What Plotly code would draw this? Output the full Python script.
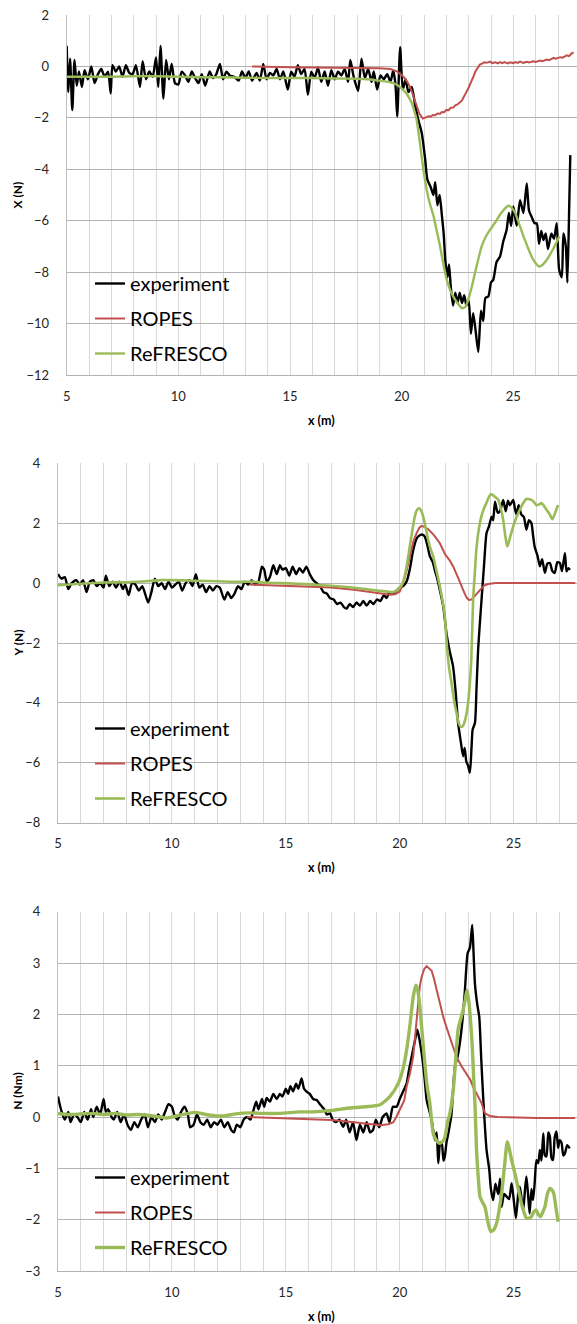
import plotly.graph_objects as go

# ---------------- data (x in m) ----------------
# Panel 1: X (N)
X_exp = [(5.00,0.8),(5.07,-1.0),(5.15,0.3),(5.25,-1.7),(5.35,0.25),(5.45,-0.75),(5.55,-0.2),(5.68,-0.8),
 (5.8,-0.15),(5.95,-0.5),(6.1,0.0),(6.25,-0.65),(6.4,-0.3),(6.55,-0.1),(6.7,-0.4),(6.85,-0.2),(6.97,-1.05),
 (7.05,0.05),(7.2,-0.2),(7.35,0.0),(7.5,-0.4),(7.65,0.05),(7.8,-0.25),(7.95,-0.3),(8.1,0.05),(8.28,-0.8),
 (8.4,0.2),(8.55,-0.5),(8.7,-0.2),(8.85,-0.4),(9.0,0.35),(9.1,-0.8),(9.2,0.8),(9.33,-1.25),(9.45,0.25),
 (9.58,-0.5),(9.7,0.1),(9.85,-0.65),(10.0,-0.7),(10.15,-0.2),(10.3,-0.35),(10.45,-0.6),(10.6,-0.2),
 (10.75,-0.45),(10.9,-0.65),(11.05,-0.3),(11.2,-0.75),(11.4,-0.2),(11.55,-0.45),(11.7,-0.3),(11.86,0.1),
 (12.0,-0.5),(12.15,-0.2),(12.3,-0.35),(12.5,-0.4),(12.7,-0.55),(12.85,-0.2),(13.0,-0.45),(13.15,-0.2),
 (13.3,-0.55),(13.5,-0.25),(13.65,-0.55),(13.8,0.1),(13.95,-0.5),(14.1,-0.25),(14.25,-0.35),(14.4,-0.1),
 (14.55,-0.5),(14.7,-0.2),(14.9,-0.9),(15.05,-0.2),(15.2,-0.4),(15.35,0.05),(15.5,-0.3),(15.65,-0.1),
 (15.8,-1.1),(15.95,-0.2),(16.1,-0.45),(16.25,-0.05),(16.4,-0.6),(16.55,-0.2),(16.7,-0.75),(16.85,-0.15),
 (17.0,-0.5),(17.15,-0.2),(17.3,-0.35),(17.45,-0.1),(17.6,-0.6),(17.7,0.25),(17.85,-0.4),(18.05,-0.95),
 (18.2,0.3),(18.35,-0.45),(18.5,-0.1),(18.65,-0.6),(18.75,-0.2),(18.9,-0.9),(19.05,-0.35),(19.2,-0.5),
 (19.35,-0.3),(19.5,-0.6),(19.62,-0.15),(19.72,-0.7),(19.8,-1.95),(19.93,0.75),(20.05,-0.9),(20.18,-0.5),
 (20.3,-1.0),(20.45,-0.8),(20.6,-1.5),(20.75,-2.1),(20.9,-2.6),(21.05,-3.6),(21.15,-4.4),(21.3,-4.7),
 (21.42,-5.0),(21.5,-4.5),(21.6,-5.4),(21.7,-5.0),(21.8,-5.8),(21.88,-6.5),(21.95,-7.5),(22.05,-8.2),
 (22.12,-7.7),(22.2,-8.6),(22.3,-9.3),(22.4,-8.8),(22.5,-9.2),(22.6,-8.8),(22.7,-9.2),(22.8,-8.9),
 (22.9,-9.3),(23.0,-9.1),(23.1,-10.4),(23.2,-9.6),(23.3,-10.2),(23.43,-11.1),(23.55,-9.5),(23.65,-9.9),
 (23.75,-9.0),(23.88,-8.95),(24.0,-8.4),(24.1,-8.3),(24.25,-7.6),(24.4,-7.4),(24.55,-6.8),(24.7,-6.35),
 (24.8,-5.7),(24.9,-6.2),(25.0,-5.45),(25.15,-6.2),(25.3,-5.2),(25.45,-5.7),(25.6,-4.55),(25.7,-5.6),
 (25.82,-5.85),(25.95,-6.1),(26.05,-6.1),(26.15,-6.9),(26.25,-6.4),(26.35,-6.75),(26.45,-6.5),(26.55,-7.1),
 (26.7,-6.5),(26.82,-6.7),(26.94,-6.1),(27.05,-7.9),(27.17,-8.2),(27.24,-6.5),(27.35,-7.0),(27.42,-8.4),
 (27.5,-5.5),(27.55,-3.45)]
X_ropes = [(13.3,0.0),(14,-0.02),(15,-0.03),(16,-0.04),(17,-0.05),(18,-0.05),(19,-0.07),(19.5,-0.1),
 (19.8,-0.2),(20.07,-0.39),(20.25,-0.6),(20.4,-0.85),(20.55,-1.2),(20.67,-1.56),(20.8,-1.85),(20.95,-2.03),
 (21.1,-1.98),(21.2,-1.94),(21.3,-1.95),(21.4,-1.89),(21.5,-1.9),(21.6,-1.83),(21.72,-1.84),(21.8,-1.77),
 (21.9,-1.78),(22.0,-1.69),(22.1,-1.7),(22.2,-1.61),(22.31,-1.6),(22.4,-1.51),(22.5,-1.48),(22.6,-1.39),
 (22.7,-1.32),(22.76,-1.22),(22.85,-1.1),(22.9,-0.99),(23.0,-0.82),(23.07,-0.7),(23.14,-0.52),(23.22,-0.38),
 (23.3,-0.2),(23.4,-0.05),(23.5,0.07),(23.6,0.11),(23.7,0.16),(23.8,0.14),(23.96,0.19),(24.05,0.13),
 (24.2,0.16),(24.3,0.12),(24.4,0.17),(24.5,0.13),(24.6,0.17),(24.75,0.12),(24.85,0.16),(25.0,0.13),
 (25.1,0.17),(25.2,0.14),(25.3,0.19),(25.45,0.14),(25.6,0.18),(25.7,0.15),(25.9,0.2),(26.0,0.17),
 (26.2,0.23),(26.3,0.2),(26.5,0.27),(26.6,0.24),(26.8,0.33),(26.9,0.3),(27.1,0.36),(27.2,0.34),
 (27.4,0.43),(27.5,0.4),(27.6,0.5),(27.7,0.55)]
X_refresco = [(5,-0.4),(6,-0.4),(7,-0.4),(8,-0.38),(9,-0.38),(10,-0.4),(11,-0.42),(12,-0.42),(13,-0.44),
 (14,-0.45),(15,-0.45),(16,-0.45),(17,-0.47),(18,-0.48),(18.5,-0.5),(19.03,-0.56),(19.4,-0.6),(19.63,-0.65),
 (19.85,-0.75),(20.07,-0.91),(20.25,-1.1),(20.45,-1.42),(20.57,-1.75),(20.67,-2.07),(20.82,-3.0),(20.97,-4.0),
 (21.12,-4.8),(21.25,-5.3),(21.42,-5.8),(21.57,-6.4),(21.72,-7.0),(21.87,-7.7),(22.02,-8.3),(22.15,-8.65),
 (22.31,-8.95),(22.5,-9.2),(22.69,-9.4),(22.85,-9.35),(22.98,-9.08),(23.13,-8.6),(23.28,-8.04),(23.43,-7.5),
 (23.58,-7.0),(23.75,-6.65),(23.96,-6.35),(24.2,-6.05),(24.4,-5.77),(24.6,-5.55),(24.78,-5.42),(24.93,-5.5),
 (25.08,-5.7),(25.25,-6.1),(25.45,-6.6),(25.63,-7.0),(25.82,-7.4),(26.0,-7.65),(26.16,-7.78),(26.3,-7.72),
 (26.5,-7.52),(26.75,-7.15),(26.9,-6.9),(27.06,-6.6)]

# Panel 2: Y (N)
Y_exp = [(5.0,0.3),(5.15,0.15),(5.3,0.2),(5.45,-0.2),(5.6,0.0),(5.8,0.1),(5.95,-0.05),(6.1,0.1),(6.25,-0.3),
 (6.4,0.05),(6.55,0.1),(6.7,-0.1),(6.85,0.0),(7.0,-0.15),(7.1,0.25),(7.25,-0.1),(7.4,0.05),(7.55,-0.15),
 (7.7,0.05),(7.85,-0.2),(7.95,-0.05),(8.1,-0.4),(8.25,0.0),(8.4,-0.05),(8.55,-0.25),(8.7,-0.1),(8.8,-0.3),
 (8.96,-0.65),(9.1,-0.3),(9.25,0.15),(9.4,-0.1),(9.55,0.0),(9.7,-0.2),(9.85,0.05),(10.0,-0.15),(10.15,-0.05),
 (10.3,0.05),(10.45,-0.25),(10.6,0.0),(10.75,0.1),(10.9,-0.1),(11.05,0.3),(11.2,-0.15),(11.35,-0.05),
 (11.5,-0.3),(11.65,-0.1),(11.8,-0.25),(11.95,-0.1),(12.1,-0.15),(12.3,-0.55),(12.45,-0.3),(12.6,-0.5),
 (12.75,-0.35),(12.9,-0.1),(13.05,-0.2),(13.2,0.05),(13.35,-0.05),(13.5,0.1),(13.65,-0.05),(13.8,0.05),
 (13.95,0.55),(14.05,0.45),(14.16,0.05),(14.3,0.2),(14.45,0.6),(14.6,0.3),(14.74,0.6),(14.85,0.45),
 (15.0,0.5),(15.15,0.25),(15.3,0.55),(15.45,0.3),(15.6,0.5),(15.75,0.35),(15.9,0.55),(16.05,0.3),(16.2,0.1),
 (16.35,0.0),(16.5,-0.1),(16.65,-0.3),(16.8,-0.35),(16.94,-0.5),(17.1,-0.55),(17.25,-0.7),(17.4,-0.65),
 (17.55,-0.8),(17.67,-0.85),(17.8,-0.7),(17.95,-0.8),(18.1,-0.65),(18.25,-0.75),(18.4,-0.6),(18.55,-0.75),
 (18.7,-0.6),(18.84,-0.7),(19.0,-0.55),(19.15,-0.6),(19.3,-0.4),(19.42,-0.5),(19.55,-0.3),(19.7,-0.35),
 (19.86,-0.25),(20.0,-0.15),(20.15,-0.1),(20.3,0.05),(20.45,0.5),(20.59,1.1),(20.75,1.5),(20.88,1.6),
 (21.0,1.62),(21.1,1.55),(21.2,1.3),(21.32,0.9),(21.45,0.7),(21.55,0.4),(21.62,0.22),(21.75,-0.2),
 (21.91,-0.78),(22.05,-1.67),(22.2,-2.3),(22.34,-2.78),(22.45,-3.6),(22.56,-4.67),(22.68,-5.3),(22.78,-5.78),
 (22.85,-5.5),(22.92,-5.95),(23.0,-6.1),(23.08,-6.33),(23.15,-5.5),(23.2,-4.89),(23.3,-4.67),(23.37,-3.5),
 (23.44,-2.22),(23.52,-1.3),(23.59,-0.56),(23.7,0.6),(23.81,1.67),(23.92,1.9),(24.03,2.22),(24.1,2.1),
 (24.18,2.72),(24.3,2.35),(24.4,2.4),(24.54,2.78),(24.65,2.4),(24.75,2.75),(24.83,2.6),(24.98,2.78),
 (25.05,2.5),(25.12,2.3),(25.22,2.6),(25.33,2.3),(25.45,2.2),(25.56,1.78),(25.67,2.1),(25.78,2.0),
 (25.85,1.6),(25.92,1.22),(26.05,0.9),(26.15,0.56),(26.25,0.8),(26.37,0.34),(26.48,0.65),(26.59,0.67),
 (26.7,0.4),(26.8,0.34),(26.92,0.7),(27.03,0.67),(27.12,0.4),(27.25,1.0),(27.32,0.39),(27.4,0.5),(27.47,0.44)]
Y_ropes = [(13.4,-0.05),(14,-0.07),(15,-0.1),(16,-0.12),(17,-0.15),(18,-0.22),(18.5,-0.28),(19,-0.33),
 (19.57,-0.39),(19.8,-0.37),(20.0,-0.28),(20.15,0.0),(20.3,0.4),(20.44,0.89),(20.6,1.4),(20.74,1.67),
 (20.86,1.85),(20.96,1.91),(21.1,1.87),(21.25,1.8),(21.5,1.6),(21.76,1.33),(22.0,0.95),(22.2,0.75),
 (22.35,0.55),(22.55,0.2),(22.7,-0.11),(22.85,-0.35),(22.95,-0.5),(23.04,-0.56),(23.15,-0.55),(23.3,-0.42),
 (23.52,-0.22),(23.7,-0.08),(23.88,-0.03),(24.2,0.0),(25,0.0),(26,0.0),(27,0.0),(27.7,0.0)]
Y_refresco = [(5,-0.07),(6,-0.02),(7,0.02),(8,0.03),(9,0.07),(9.5,0.1),(10,0.1),(11,0.08),(12,0.06),(13,0.04),
 (13.5,0.05),(14,0.02),(14.74,0.0),(15.5,-0.02),(16.2,-0.05),(17,-0.09),(17.67,-0.13),(18.5,-0.2),(19.13,-0.26),
 (19.5,-0.29),(19.72,-0.3),(19.9,-0.22),(20.05,-0.1),(20.15,0.05),(20.3,0.55),(20.44,1.22),(20.55,1.75),
 (20.66,2.22),(20.76,2.45),(20.85,2.5),(20.95,2.4),(21.03,2.22),(21.15,1.8),(21.25,1.44),(21.35,1.15),
 (21.47,0.89),(21.6,0.45),(21.76,-0.11),(21.88,-0.6),(21.98,-1.11),(22.05,-1.9),(22.16,-2.8),(22.27,-3.33),
 (22.38,-3.9),(22.49,-4.33),(22.6,-4.7),(22.68,-4.8),(22.76,-4.78),(22.83,-4.67),(22.92,-4.4),(23.0,-4.0),
 (23.07,-3.4),(23.14,-2.56),(23.22,-0.56),(23.3,0.4),(23.36,1.1),(23.47,1.8),(23.58,2.22),(23.7,2.5),
 (23.8,2.67),(23.9,2.85),(23.99,2.97),(24.15,2.9),(24.33,2.78),(24.45,2.45),(24.54,2.11),(24.63,1.6),
 (24.72,1.22),(24.85,1.55),(24.98,1.89),(25.12,2.2),(25.27,2.45),(25.4,2.65),(25.56,2.81),(25.68,2.8),
 (25.78,2.78),(25.9,2.7),(26.0,2.6),(26.1,2.62),(26.22,2.67),(26.33,2.58),(26.44,2.45),(26.58,2.3),
 (26.7,2.13),(26.82,2.35),(26.95,2.61)]

# Panel 3: N (Nm)
N_exp = [(5.0,0.4),(5.1,0.2),(5.2,0.05),(5.3,-0.05),(5.45,0.1),(5.55,-0.1),(5.7,0.05),(5.85,0.0),(6.0,-0.1),
 (6.15,0.1),(6.3,-0.05),(6.45,0.15),(6.55,0.0),(6.7,0.2),(6.85,0.05),(7.0,0.35),(7.1,0.1),(7.2,0.15),
 (7.35,0.0),(7.45,-0.05),(7.6,0.1),(7.75,-0.1),(7.9,0.05),(8.05,-0.15),(8.2,-0.25),(8.35,-0.1),(8.5,-0.2),
 (8.65,-0.05),(8.8,0.05),(8.95,-0.2),(9.1,0.0),(9.25,-0.1),(9.4,0.05),(9.55,-0.05),(9.7,0.1),(9.85,0.25),
 (10.0,0.2),(10.1,0.05),(10.25,-0.05),(10.4,0.1),(10.55,0.2),(10.7,0.05),(10.8,-0.2),(10.95,-0.15),
 (11.1,0.05),(11.25,-0.1),(11.4,-0.15),(11.55,-0.05),(11.7,-0.2),(11.85,-0.1),(12.0,-0.15),(12.15,-0.05),
 (12.3,-0.2),(12.45,-0.1),(12.6,-0.25),(12.72,-0.3),(12.85,-0.15),(13.0,-0.2),(13.15,-0.05),(13.3,0.0),
 (13.45,-0.05),(13.56,0.1),(13.7,0.3),(13.8,0.15),(13.95,0.35),(14.05,0.2),(14.16,0.37),(14.3,0.3),
 (14.45,0.45),(14.6,0.35),(14.74,0.45),(14.85,0.4),(15.0,0.55),(15.1,0.45),(15.2,0.6),(15.32,0.5),
 (15.45,0.65),(15.55,0.55),(15.69,0.75),(15.8,0.55),(15.9,0.5),(16.05,0.45),(16.2,0.35),(16.35,0.33),
 (16.5,0.25),(16.7,0.14),(16.8,0.05),(16.94,0.07),(17.05,-0.05),(17.2,-0.1),(17.35,-0.05),(17.52,-0.19),
 (17.65,-0.05),(17.8,-0.3),(17.95,-0.1),(18.1,-0.45),(18.25,-0.15),(18.4,-0.3),(18.55,-0.1),(18.7,-0.3),
 (18.83,-0.25),(18.95,-0.05),(19.1,-0.2),(19.25,0.0),(19.42,0.07),(19.55,-0.1),(19.7,0.2),(19.86,0.2),
 (20.0,0.35),(20.15,0.5),(20.3,0.65),(20.4,0.9),(20.52,1.17),(20.65,1.45),(20.77,1.7),(20.87,1.5),
 (20.96,1.25),(21.08,0.8),(21.18,0.33),(21.25,0.2),(21.4,-0.06),(21.54,-0.45),(21.62,-0.3),(21.69,-0.9),
 (21.78,-0.5),(21.84,-0.5),(21.92,-0.85),(21.98,-0.77),(22.05,-0.5),(22.13,-0.32),(22.27,0.05),(22.35,0.6),
 (22.42,0.98),(22.55,1.2),(22.71,1.7),(22.85,2.4),(22.98,3.19),(23.08,3.3),(23.18,3.74),(23.24,3.2),
 (23.3,2.6),(23.4,2.2),(23.49,1.95),(23.58,1.1),(23.66,0.4),(23.74,-0.2),(23.81,-0.64),(23.93,-1.03),
 (24.0,-1.4),(24.1,-1.62),(24.2,-1.3),(24.32,-1.5),(24.4,-1.2),(24.47,-1.75),(24.58,-1.5),(24.69,-1.55),
 (24.8,-1.6),(24.91,-1.29),(25.0,-1.6),(25.1,-1.97),(25.2,-1.5),(25.27,-1.36),(25.35,-1.6),(25.42,-1.82),
 (25.5,-1.4),(25.56,-1.16),(25.63,-1.5),(25.7,-1.88),(25.78,-1.4),(25.85,-1.62),(25.92,-1.3),(26.0,-0.84),
 (26.08,-0.9),(26.15,-0.64),(26.22,-0.85),(26.3,-0.32),(26.37,-0.75),(26.44,-0.77),(26.52,-0.3),(26.59,-0.38),
 (26.66,-0.8),(26.73,-0.84),(26.8,-0.4),(26.88,-0.28),(26.95,-0.6),(27.02,-0.45),(27.1,-0.5),(27.18,-0.75),
 (27.25,-0.71),(27.35,-0.55),(27.46,-0.61)]
N_ropes = [(13.3,0.0),(14,-0.01),(15,-0.02),(16,-0.04),(17,-0.06),(18,-0.1),(18.6,-0.13),(19.13,-0.16),
 (19.5,-0.14),(19.72,-0.1),(19.85,0.0),(20.0,0.14),(20.2,0.33),(20.3,0.59),(20.45,0.85),(20.59,1.17),
 (20.7,1.7),(20.81,2.28),(20.88,2.55),(20.96,2.73),(21.07,2.88),(21.18,2.94),(21.3,2.9),(21.4,2.85),
 (21.5,2.7),(21.62,2.47),(21.75,2.2),(21.91,1.95),(22.05,1.75),(22.2,1.56),(22.35,1.35),(22.49,1.17),
 (22.7,1.0),(22.93,0.85),(23.1,0.72),(23.22,0.59),(23.35,0.48),(23.52,0.33),(23.59,0.27),(23.74,0.07),
 (23.96,0.02),(24.3,0.0),(25,-0.01),(26,-0.02),(27,-0.02),(27.7,-0.02)]
N_refresco = [(5,0.07),(5.5,0.05),(6,0.06),(6.5,0.07),(7,0.05),(7.5,0.07),(8,0.04),(8.5,0.05),(9,0.03),
 (9.5,0.0),(9.77,-0.02),(10,0.0),(10.5,0.05),(11.0,0.09),(11.5,0.05),(12.0,0.02),(12.4,0.03),(12.8,0.06),
 (13.4,0.08),(14,0.07),(14.74,0.07),(15.6,0.1),(16.2,0.1),(17,0.13),(17.67,0.17),(18.5,0.2),(19.13,0.24),
 (19.57,0.4),(19.94,0.66),(20.15,0.95),(20.3,1.3),(20.45,1.8),(20.59,2.34),(20.71,2.57),(20.8,2.45),
 (20.88,2.15),(21.0,1.55),(21.1,1.05),(21.2,0.6),(21.32,0.27),(21.47,-0.32),(21.6,-0.45),(21.76,-0.51),
 (21.88,-0.48),(21.98,-0.4),(22.1,-0.1),(22.2,0.07),(22.35,0.53),(22.45,1.1),(22.56,1.7),(22.67,1.9),
 (22.78,2.08),(22.88,2.3),(22.95,2.47),(23.02,2.3),(23.08,2.03),(23.18,1.4),(23.24,0.8),(23.3,0.27),
 (23.37,-0.64),(23.45,-1.2),(23.52,-1.55),(23.62,-1.65),(23.74,-1.75),(23.85,-2.0),(23.99,-2.23),
 (24.12,-2.2),(24.25,-2.07),(24.35,-1.85),(24.47,-1.49),(24.6,-0.95),(24.72,-0.48),(24.8,-0.6),(24.91,-0.84),
 (25.0,-1.0),(25.12,-1.23),(25.23,-1.45),(25.34,-1.68),(25.45,-1.85),(25.56,-1.97),(25.67,-1.97),
 (25.78,-1.94),(25.88,-1.85),(25.98,-1.81),(26.08,-1.9),(26.18,-1.94),(26.28,-1.85),(26.37,-1.75),
 (26.48,-1.5),(26.59,-1.39),(26.68,-1.42),(26.76,-1.49),(26.85,-1.75),(26.95,-2.04)]

SERIES_NAMES = ["experiment", "ROPES", "ReFRESCO"]
COLORS = ["#000000", "#C0504D", "#9BBB59"]
Y_TITLES = ["X (N)", "Y (N)", "N (Nm)"]
Y_RANGES = [(-12, 2, 2), (-8, 4, 2), (-3, 4, 1)]
X_TICKS = [5, 10, 15, 20, 25]

# ---------------- layout geometry (pixels) ----------------
W, H = 577, 1324
panels = [
    dict(left=66.7, top=15, bottom=375, xmax=27.85, data=[X_exp, X_ropes, X_refresco], widths=[2.4, 2.0, 2.4],
         leg_top=264, box=(72, 258, 267, 372)),
    dict(left=58, top=463.3, bottom=822.7, xmax=27.78, data=[Y_exp, Y_ropes, Y_refresco], widths=[2.4, 2.0, 2.6],
         leg_top=709, box=(62, 250, 710, 818)),
    dict(left=58, top=911.7, bottom=1271, xmax=27.78, data=[N_exp, N_ropes, N_refresco], widths=[2.4, 2.0, 3.4],
         leg_top=1158, box=(62, 249, 1160, 1264)),
]
SHAPES = ["spline", "linear", "spline"]

FONT = "Lato, 'Open Sans', Arial, sans-serif"
fig = go.Figure()
layout = dict(width=W, height=H, margin=dict(l=0, r=0, t=0, b=0), paper_bgcolor="white",
              plot_bgcolor="white", font=dict(family=FONT, color="#262626"), showlegend=True)
annotations = []
shapes = []

for i, p in enumerate(panels):
    n = "" if i == 0 else str(i + 1)
    xa, ya = "x" + n, "y" + n
    leg = "legend" + n
    for k in range(3):
        pts = p["data"][k]
        line = dict(color=COLORS[k], width=p["widths"][k], shape=SHAPES[k])
        if SHAPES[k] == "spline":
            line["smoothing"] = 0.6
        fig.add_trace(go.Scatter(
            x=[a for a, b in pts], y=[b for a, b in pts], mode="lines",
            name=SERIES_NAMES[k], line=line,
            xaxis=xa, yaxis=ya, legend=leg, legendgroup=f"g{i}{k}", showlegend=True))
    lo, hi, dt = Y_RANGES[i]
    layout["xaxis" + n] = dict(
        domain=[p["left"] / W, 1], range=[5, p["xmax"]], anchor=ya,
        tickmode="array", tickvals=X_TICKS, ticks="", showgrid=True, gridcolor="#D9D9D9", gridwidth=1,
        minor=dict(dtick=1, tick0=5, showgrid=True, gridcolor="#D9D9D9", gridwidth=1),
        zeroline=False, showline=True, linecolor="#B3B3B3", linewidth=1,
        tickfont=dict(size=13, family=FONT, color="#262626"), ticklabelstandoff=9, automargin=False)
    layout["yaxis" + n] = dict(
        domain=[1 - p["bottom"] / H, 1 - p["top"] / H], range=[lo, hi], anchor=xa,
        tick0=lo, dtick=dt, ticks="", showgrid=True, gridcolor="#B3B3B3", gridwidth=1,
        zeroline=False, showline=True, linecolor="#BFBFBF", linewidth=1,
        tickfont=dict(size=13, family=FONT, color="#262626"), ticklabelstandoff=14, automargin=False)
    layout[leg] = dict(
        x=90 / W, y=1 - p["leg_top"] / H, xanchor="left", yanchor="top",
        bgcolor="rgba(255,255,255,0)", borderwidth=0, font=dict(size=20, family=FONT, color="#000000"),
        traceorder="grouped", tracegroupgap=6, itemwidth=30)
    # white legend area hiding the gridlines (drawn between grid and traces)
    x0, x1, y0, y1 = p["box"]
    shapes.append(dict(type="rect", xref="paper", yref="paper", x0=x0 / W, x1=x1 / W,
                       y0=1 - y1 / H, y1=1 - y0 / H, fillcolor="white", line=dict(width=0),
                       layer="between"))
    # axis titles
    annotations.append(dict(text="<b>" + Y_TITLES[i] + "</b>", x=17.5 / W, y=1 - (p["top"] + p["bottom"]) / 2 / H,
                            xref="paper", yref="paper", xanchor="center", yanchor="middle",
                            showarrow=False, textangle=-90,
                            font=dict(size=12, family=FONT, color="#000000")))
    annotations.append(dict(text="<b>x (m)</b>", x=321 / W, y=1 - (p["bottom"] + 45) / H,
                            xref="paper", yref="paper", xanchor="center", yanchor="middle",
                            showarrow=False,
                            font=dict(size=12.5, family=FONT, color="#000000")))

layout["annotations"] = annotations
layout["shapes"] = shapes
fig.update_layout(**layout)
fig.write_html("out.html")
